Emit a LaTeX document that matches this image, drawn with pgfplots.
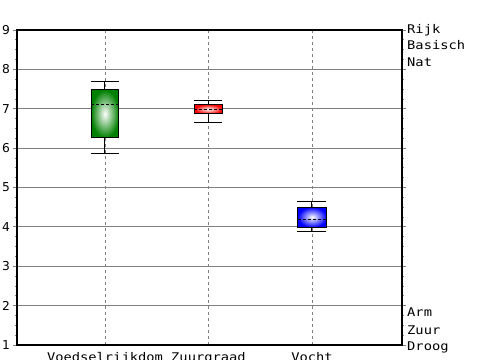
\documentclass[border=0pt]{standalone}
\usepackage{pgfplots}
\pgfplotsset{compat=1.18}
\usepackage{fontspec}
\setmainfont{DejaVu Sans}
\newfontfamily\monofont[FakeStretch=1.15]{DejaVu Sans Mono}
\definecolor{bxgreen}{RGB}{0,128,0}
\definecolor{bxred}{RGB}{255,0,0}
\definecolor{bxblue}{RGB}{0,0,255}
\definecolor{gridgray}{RGB}{128,128,128}
\begin{document}
\begin{tikzpicture}
\begin{axis}[
  at={(17bp,15bp)}, anchor=south west,
  scale only axis, width=385bp, height=315bp,
  xmin=0.15, xmax=3.87, ymin=1, ymax=9,
  ytick={1,2,3,4,5,6,7,8,9},
  minor y tick num=3,
  xtick={1,2,3},
  xticklabels={Voedselrijkdom,Zuurgraad,Vocht},
  x tick label style={font=\monofont\fontsize{12}{14}\selectfont},
  y tick label style={font=\fontsize{12.3}{14}\selectfont},
  /pgf/number format/assume math mode=true,
  yticklabel pos=left,
  tick align=outside,
  major tick length=3.5bp,
  minor tick length=1.5bp,
  y tick style={gridgray, line width=0.8bp},
  x tick style={draw=none},
  ymajorgrids, xmajorgrids,
  y grid style={gridgray, line width=0.9bp},
  x grid style={gridgray, line width=0.8bp, dash pattern=on 3bp off 3bp},
  axis line style={black, line width=1.5bp},
  whisk/.style={black, line width=1bp, mark=none},
  med/.style={black, line width=1bp, mark=none, dash pattern=on 3bp off 2bp},
]
% Voedselrijkdom: lw 5.87, q1 6.26, med 7.11, q3 7.48, uw 7.68
\addplot[whisk] coordinates {(1,7.48) (1,7.68)};
\addplot[whisk] coordinates {(1,6.26) (1,5.87)};
\addplot[whisk] coordinates {(0.865,7.68) (1.135,7.68)};
\addplot[whisk] coordinates {(0.865,5.87) (1.135,5.87)};
\addplot[draw=black, line width=1bp, mark=none, shade, inner color=white, outer color=bxgreen]
  coordinates {(0.865,6.26) (1.135,6.26) (1.135,7.48) (0.865,7.48)} --cycle;
\addplot[med] coordinates {(0.865,7.11) (1.135,7.11)};
% Zuurgraad: lw 6.66, q1 6.87, med 6.97, q3 7.11, uw 7.22
\addplot[whisk] coordinates {(2,7.11) (2,7.22)};
\addplot[whisk] coordinates {(2,6.87) (2,6.66)};
\addplot[whisk] coordinates {(1.865,7.22) (2.135,7.22)};
\addplot[whisk] coordinates {(1.865,6.66) (2.135,6.66)};
\addplot[draw=black, line width=1bp, mark=none, shade, inner color=white, outer color=bxred]
  coordinates {(1.865,6.87) (2.135,6.87) (2.135,7.11) (1.865,7.11)} --cycle;
\addplot[med] coordinates {(1.865,6.97) (2.135,6.97)};
% Vocht: lw 3.89, q1 3.99, med 4.20, q3 4.50, uw 4.65
\addplot[whisk] coordinates {(3,4.50) (3,4.65)};
\addplot[whisk] coordinates {(3,3.99) (3,3.89)};
\addplot[whisk] coordinates {(2.855,4.65) (3.14,4.65)};
\addplot[whisk] coordinates {(2.855,3.89) (3.14,3.89)};
\addplot[draw=black, line width=1bp, mark=none, shade, inner color=white, outer color=bxblue]
  coordinates {(2.865,3.99) (3.14,3.99) (3.14,4.50) (2.865,4.50)} --cycle;
\addplot[med] coordinates {(2.865,4.20) (3.14,4.20)};
\end{axis}
\begin{scope}[every node/.style={anchor=base west, inner sep=0pt, font=\monofont\fontsize{12}{14}\selectfont}]
\node at (407bp, 326.7bp) {Rijk};
\node at (407bp, 310bp) {Basisch};
\node at (407bp, 293.3bp) {Nat};
\node at (407bp, 43.3bp) {Arm};
\node at (407bp, 26bp) {Zuur};
\node at (407bp, 9.3bp) {Droog};
\end{scope}
\pgfresetboundingbox
\path[use as bounding box] (0,0) rectangle (500bp,360bp);
\end{tikzpicture}
\end{document}
